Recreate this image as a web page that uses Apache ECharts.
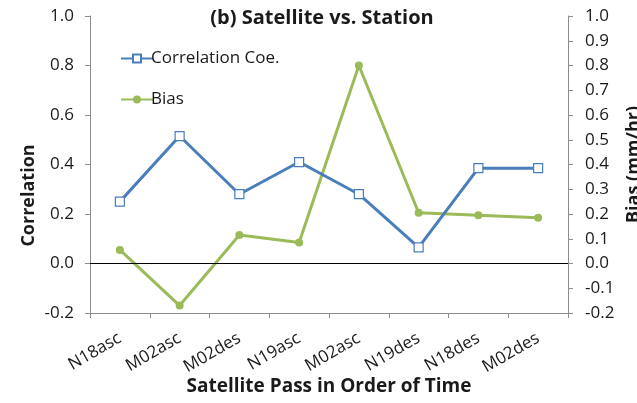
<!DOCTYPE html>
<html>
<head>
<meta charset="utf-8">
<script src="https://cdn.jsdelivr.net/npm/echarts@6/dist/echarts.min.js"></script>
<style>
  html, body { margin: 0; padding: 0; background: #fff; }
  #chart { width: 637px; height: 403px; }
</style>
</head>
<body>
<div id="chart"></div>
<script>
// Satellite passes, in order of time
const passes = ['N18asc', 'M02asc', 'M02des', 'N19asc', 'M02asc', 'N19des', 'N18des', 'M02des'];
// Correlation coefficient against station data (left axis)
const correlation = [0.25, 0.515, 0.28, 0.41, 0.28, 0.065, 0.385, 0.385];
// Bias in mm/hr (right axis)
const bias = [0.055, -0.17, 0.115, 0.085, 0.80, 0.205, 0.195, 0.185];

const FONT = '"Open Sans", "Noto Sans", sans-serif';
const BLUE = '#4a7ebb';
const GREEN = '#9bbb59';
const AXIS_GREY = '#8c8c8c';
const INK = '#1a1a1a';

const chart = echarts.init(document.getElementById('chart'), null, { renderer: 'canvas' });

chart.setOption({
  animation: false,
  backgroundColor: '#fff',
  textStyle: { fontFamily: FONT },
  title: {
    text: '(b) Satellite vs. Station',
    left: 317,
    textAlign: 'center',
    top: 3,
    textStyle: { fontFamily: FONT, fontSize: 20, fontWeight: 'bold', color: INK }
  },
  legend: {
    orient: 'vertical',
    left: 115,
    top: 45,
    itemGap: 24,
    itemWidth: 32,
    itemHeight: 10,
    textStyle: { fontFamily: FONT, fontSize: 17, color: INK, padding: [0, 0, 0, -7] },
    data: ['Correlation Coe.', 'Bias']
  },
  grid: { left: 90, right: 69, top: 16, bottom: 90, containLabel: false, outerBoundsMode: 'none' },
  xAxis: {
    type: 'category',
    data: passes,
    boundaryGap: true,
    name: 'Satellite Pass in Order of Time',
    nameLocation: 'middle',
    nameGap: 64,
    nameMoveOverlap: false,
    nameTextStyle: { fontFamily: FONT, fontSize: 19, fontWeight: 'bold', color: INK },
    axisLine: { onZero: false, lineStyle: { color: AXIS_GREY, width: 1 } },
    axisTick: { show: true, length: 5, lineStyle: { color: AXIS_GREY } },
    axisLabel: { rotate: 30, fontFamily: FONT, fontSize: 17, color: INK, margin: 24 },
    splitLine: { show: false }
  },
  yAxis: [
    {
      type: 'value',
      min: -0.2, max: 1.0, interval: 0.2,
      name: 'Correlation',
      nameLocation: 'middle',
      nameGap: 52,
      nameRotate: 90,
      nameMoveOverlap: false,
      nameTextStyle: { fontFamily: FONT, fontSize: 18, fontWeight: 'bold', color: INK, padding: [0, 62, 0, 0] },
      axisLine: { show: true, lineStyle: { color: AXIS_GREY, width: 1 } },
      axisTick: { show: true, length: 5, lineStyle: { color: AXIS_GREY } },
      axisLabel: { fontFamily: FONT, fontSize: 17, color: INK, margin: 16, formatter: v => v.toFixed(1) },
      splitLine: { show: false }
    },
    {
      type: 'value',
      position: 'right',
      min: -0.2, max: 1.0, interval: 0.1,
      name: 'Bias (mm/hr)',
      nameLocation: 'middle',
      nameGap: 57,
      nameRotate: 90,
      nameMoveOverlap: false,
      nameTextStyle: { fontFamily: FONT, fontSize: 18, fontWeight: 'bold', color: INK },
      axisLine: { show: true, lineStyle: { color: AXIS_GREY, width: 1 } },
      axisTick: { show: true, length: 5, lineStyle: { color: AXIS_GREY } },
      axisLabel: { fontFamily: FONT, fontSize: 17, color: INK, margin: 17, formatter: v => v.toFixed(1) },
      splitLine: { show: false }
    }
  ],
  series: [
    {
      name: 'Correlation Coe.',
      type: 'line',
      yAxisIndex: 0,
      data: correlation,
      symbol: 'rect',
      symbolSize: 9,
      itemStyle: { color: '#fff', borderColor: BLUE, borderWidth: 1.2 },
      lineStyle: { color: BLUE, width: 3 },
      markLine: {
        silent: true,
        symbol: 'none',
        label: { show: false },
        lineStyle: { color: '#000', width: 1, type: 'solid' },
        data: [{ yAxis: 0 }]
      },
      z: 3
    },
    {
      name: 'Bias',
      type: 'line',
      yAxisIndex: 1,
      data: bias,
      symbol: 'circle',
      symbolSize: 8,
      itemStyle: { color: GREEN },
      lineStyle: { color: GREEN, width: 3 },
      z: 2
    }
  ]
});
</script>
</body>
</html>
